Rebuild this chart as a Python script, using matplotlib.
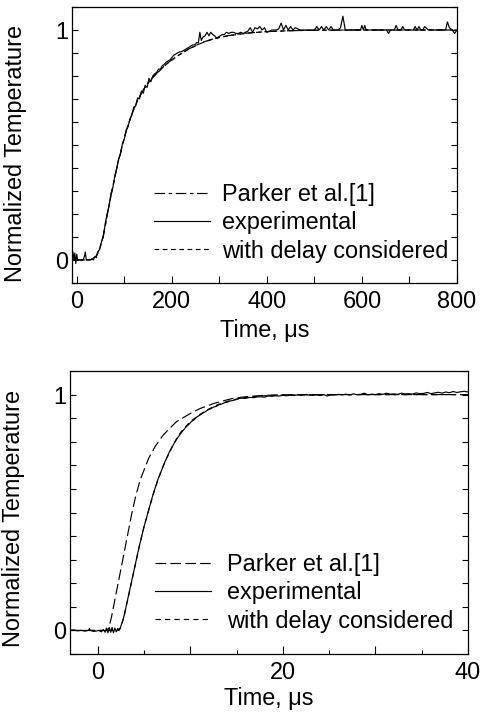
import numpy as np
import matplotlib
matplotlib.use("Agg")
import matplotlib.pyplot as plt
from matplotlib.ticker import MultipleLocator, FixedLocator, FuncFormatter

plt.rcParams['font.family'] = ['Liberation Sans', 'DejaVu Sans']

# ---------------- top panel data (time in microseconds) ----------------
top_parker_t = [-10, 0, 20, 30, 40, 44, 48, 52, 56, 60, 64, 68, 72, 76, 80, 84, 88, 92, 96, 100,
                104, 108, 112, 116, 120, 124, 128, 132, 136, 140, 148, 156, 164, 172, 180, 188,
                196, 204, 212, 220, 228, 236, 244, 252, 260, 270, 280, 290, 300, 320, 340, 360,
                380, 400, 450, 500, 600, 800]
top_parker_v = [0, 0, 0, 0.003, 0.015, 0.03, 0.05, 0.075, 0.11, 0.15, 0.195, 0.24, 0.28, 0.32, 0.36,
                0.40, 0.435, 0.465, 0.50, 0.53, 0.56, 0.585, 0.61, 0.635, 0.655, 0.675, 0.695, 0.71,
                0.725, 0.74, 0.764, 0.786, 0.803, 0.819, 0.835, 0.851, 0.864, 0.876, 0.888, 0.898,
                0.908, 0.918, 0.926, 0.934, 0.942, 0.950, 0.957, 0.963, 0.968, 0.976, 0.982, 0.987,
                0.990, 0.993, 0.997, 0.999, 1.0, 1.0]

top_delay_t = [-10, 0, 20, 30, 40, 44, 48, 52, 56, 60, 64, 68, 72, 76, 80, 84, 88, 92, 96, 100,
               104, 108, 112, 116, 120, 124, 128, 132, 136, 140, 148, 156, 164, 172, 180, 188,
               196, 204, 212, 220, 228, 236, 244, 252, 260, 270, 280, 290, 300, 320, 340, 360,
               380, 400, 450, 500, 600, 800]
top_delay_v = [0, 0, 0, 0.002, 0.012, 0.027, 0.047, 0.073, 0.108, 0.148, 0.193, 0.238, 0.279, 0.319,
               0.359, 0.399, 0.434, 0.465, 0.499, 0.529, 0.559, 0.584, 0.609, 0.634, 0.654, 0.674,
               0.694, 0.709, 0.724, 0.739, 0.763, 0.785, 0.802, 0.818, 0.834, 0.850, 0.863, 0.875,
               0.887, 0.897, 0.907, 0.917, 0.925, 0.933, 0.941, 0.949, 0.956, 0.962, 0.967, 0.975,
               0.981, 0.986, 0.990, 0.993, 0.997, 0.999, 1.0, 1.0]

top_exp_t = [-10, -8, -6, -4, -2, 0, 2, 4, 6, 8, 10, 13, 16, 18, 20, 23, 26, 29, 32, 35, 38, 41,
             44, 48, 52, 56, 60, 64, 68, 72, 76, 80, 84, 88, 92, 96, 100, 104, 108, 112, 116, 120,
             124, 128, 132, 136, 140, 144, 148, 152, 156, 160, 164, 168, 172, 176, 180, 184, 188,
             192, 196, 200, 204, 208, 212, 216, 220, 224, 228, 232, 236, 240, 244, 248, 252, 256,
             259, 262, 266, 270, 274, 278, 282, 286, 290, 294, 298, 302, 306, 310, 315, 320, 325,
             330, 335, 340, 345, 350, 355, 360, 365, 370, 375, 380, 385, 390, 395, 400, 410, 420,
             425, 430, 435, 440, 445, 450, 455, 460, 470, 480, 490, 500, 505, 510, 515, 520, 525,
             530, 535, 540, 550, 555, 560, 565, 575, 590, 597, 600, 603, 606, 609, 620, 640, 652,
             656, 660, 668, 672, 676, 682, 686, 690, 700, 708, 712, 716, 720, 724, 728, 732, 740,
             750, 770, 776, 780, 784, 790, 795, 800]
top_exp_v = [0.01, 0.035, 0.0, 0.03, -0.015, 0.025, 0.0, 0.0, 0.0, 0.0, 0.0, 0.0, 0.015, 0.035,
             0.0, 0.0, 0.0, 0.0, 0.005, 0.0, 0.015, 0.01,
             0.035, 0.045, 0.08, 0.10, 0.16, 0.20, 0.235, 0.29, 0.315, 0.365, 0.395, 0.44, 0.46,
             0.505, 0.525, 0.565, 0.58, 0.615, 0.63, 0.665, 0.67, 0.705, 0.70, 0.735, 0.725, 0.76,
             0.75, 0.79, 0.775, 0.80, 0.81, 0.815, 0.83, 0.83, 0.845, 0.85, 0.86, 0.865, 0.87,
             0.88, 0.89, 0.895, 0.90, 0.905, 0.905, 0.91, 0.915, 0.92, 0.925, 0.93, 0.935, 0.935,
             0.945, 0.945,
             0.99, 0.955, 0.97, 0.975, 0.99, 0.975, 0.99, 0.98, 0.975, 0.965, 0.97, 0.975, 0.98,
             0.98, 0.99, 0.985, 0.99, 0.99, 0.985, 0.985, 0.99, 0.985, 0.99, 0.995, 1.01, 0.99,
             1.01, 1.005, 1.015, 1.0, 1.01, 0.99, 1.0, 1.0, 1.005, 1.03, 1.0, 1.02, 1.0, 1.015,
             1.0, 1.01, 1.0, 1.0, 1.0, 1.0, 1.015, 1.0, 1.015, 1.0, 1.015, 1.0, 1.015, 1.0, 1.0,
             1.01, 1.06, 1.0, 1.0, 1.0, 1.0, 1.02, 1.0, 1.02, 1.0, 1.0, 1.0, 1.0, 0.985, 1.0, 1.0,
             1.02, 1.0, 1.0, 1.015, 1.0, 1.0, 1.0, 1.015, 1.0, 1.015, 1.0, 1.0, 1.015, 1.0, 1.0,
             1.0, 1.0, 1.035, 1.01, 1.0, 0.985, 1.0]

# ---------------- bottom panel data (time in microseconds) ----------------
bot_parker_t = [-3, 0, 1.0, 1.2, 1.5, 1.8, 2.1, 2.4, 2.7, 3.0, 3.3, 3.7, 4.1, 4.6, 5.0, 5.5, 6.2,
                7.0, 7.6, 8.5, 10.0, 11.0, 12.5, 13.5, 14.7, 16.0, 18.0, 20.0, 25.0, 40.0]
bot_parker_v = [0, 0, 0, 0.01, 0.06, 0.12, 0.18, 0.24, 0.30, 0.36, 0.42, 0.50, 0.57, 0.64, 0.68,
                0.73, 0.78, 0.825, 0.85, 0.885, 0.92, 0.94, 0.962, 0.973, 0.985, 0.991, 0.997,
                0.999, 1.0, 1.0]

bot_delay_t = [-3, 0, 2.3, 2.45, 2.6, 2.8, 3.0, 3.5, 4.0, 4.5, 5.0, 5.5, 6.0, 6.5, 7.0, 7.5, 8.0,
               8.5, 9.0, 10.0, 11.0, 12.0, 13.0, 14.0, 15.0, 16.0, 17.0, 18.0, 20.0, 25.0, 40.0]
bot_delay_v = [0, 0, 0, 0.01, 0.028, 0.053, 0.088, 0.178, 0.268, 0.358, 0.44, 0.51, 0.578, 0.638,
               0.69, 0.735, 0.775, 0.812, 0.842, 0.886, 0.915, 0.939, 0.958, 0.971, 0.981, 0.988,
               0.992, 0.995, 0.998, 1.0, 1.0]

bot_exp_base_t = [-3.0, -2.6, -2.2, -1.8, -1.4, -1.0, -0.9, -0.8, -0.5, -0.2, 0.1, 0.4, 0.6, 0.8,
                  0.95, 1.1, 1.25, 1.4, 1.55, 1.7, 1.85, 2.0, 2.15, 2.3]
bot_exp_base_v = [0.0, 0.002, -0.002, 0.0, -0.003, 0.0, 0.008, 0.0, -0.004, -0.003, 0.0, -0.006,
                  0.004, -0.008, 0.01, -0.01, 0.012, -0.008, 0.013, -0.01, 0.01, -0.006, 0.008,
                  0.004]
bot_exp_rise_t = [2.45, 2.6, 2.8, 3.0, 3.25, 3.5, 3.75, 4.0, 4.25, 4.5, 4.75, 5.0, 5.25, 5.5, 5.75,
                  6.0, 6.25, 6.5, 6.75, 7.0, 7.25, 7.5, 7.75, 8.0, 8.3, 8.6, 8.9, 9.2, 9.5, 9.8,
                  10.1, 10.4, 10.7, 11.0, 11.3, 11.6, 11.9, 12.2, 12.5, 12.8, 13.1, 13.4, 13.7,
                  14.0, 14.3, 14.6, 14.9]
bot_exp_rise_v = [0.012, 0.03, 0.055, 0.09, 0.135, 0.18, 0.225, 0.27, 0.315, 0.36, 0.40, 0.44,
                  0.475, 0.51, 0.545, 0.58, 0.61, 0.64, 0.665, 0.69, 0.715, 0.735, 0.758, 0.775,
                  0.797, 0.815, 0.832, 0.847, 0.861, 0.872, 0.885, 0.893, 0.905, 0.912, 0.921,
                  0.927, 0.935, 0.94, 0.947, 0.95, 0.957, 0.96, 0.966, 0.968, 0.973, 0.975, 0.979]
bot_exp_plat_t = [15.2, 15.6, 16.0, 16.4, 16.8, 17.2, 17.6, 18.0, 18.4, 18.8,
                  19.2, 19.6, 20.0, 20.4, 20.8, 21.2, 21.6, 22.0, 22.4, 22.8,
                  23.2, 23.6, 24.0, 24.4, 24.8, 25.2, 25.6, 26.0, 26.4, 26.8,
                  27.2, 27.6, 28.0, 28.4, 28.8, 29.2, 29.6, 30.0, 30.4, 30.8,
                  31.2, 31.6, 32.0, 32.4, 32.8, 33.2, 33.6, 34.0, 34.4, 34.8,
                  35.2, 35.6, 36.0, 36.4, 36.8, 37.2, 37.6, 38.0, 38.4, 38.8,
                  39.2, 39.6, 40.0]
bot_exp_plat_v = [0.983, 0.985, 0.984, 0.988, 0.987, 0.990, 0.991, 0.989, 0.994, 0.993,
                  0.995, 0.994, 0.997, 0.995, 0.998, 0.996, 0.999, 0.997, 1.000, 0.998,
                  0.997, 0.999, 0.996, 1.000, 0.994, 0.999, 0.998, 1.001, 0.999, 1.002,
                  0.998, 1.003, 1.000, 1.001, 1.006, 0.999, 1.002, 1.000, 1.004, 1.001,
                  1.006, 1.002, 1.003, 1.001, 1.006, 1.003, 1.004, 1.002, 1.007, 1.004,
                  1.005, 1.009, 1.004, 1.007, 1.010, 1.006, 1.011, 1.008, 1.013, 1.009,
                  1.012, 1.014, 1.011]

legend_labels = ["Parker et al.[1]", "experimental", "with delay considered"]
ylabel = "Normalized Temperature"
xlabel = "Time, \u03bcs"

FS = 16.9
LW = 0.85

fig = plt.figure(figsize=(4.8, 7.15), dpi=100)
ax1 = fig.add_axes([0.15, 0.6042, 0.802, 0.386])
ax2 = fig.add_axes([0.1458, 0.0853, 0.8292, 0.3958])

def style(ax):
    for s in ax.spines.values():
        s.set_linewidth(0.9)
    ax.set_ylim(-0.1, 1.1)
    ax.yaxis.set_major_locator(FixedLocator([0, 1]))
    ax.yaxis.set_minor_locator(MultipleLocator(0.1))
    ax.tick_params(axis='both', which='both', direction='in', top=False, right=True,
                   labelsize=FS, width=0.8)
    ax.tick_params(axis='y', which='both', length=4, pad=3)
    ax.yaxis.set_major_formatter(FuncFormatter(lambda v, p: "%d" % round(v)))

# top panel
style(ax1)
ax1.set_xlim(-10, 800)
ax1.xaxis.set_major_locator(MultipleLocator(200))
ax1.xaxis.set_minor_locator(MultipleLocator(100))
ax1.tick_params(axis='x', which='both', length=5, pad=5)
l1, = ax1.plot(top_parker_t, top_parker_v, color='black', lw=LW, dashes=(9, 3, 3, 3))
l2, = ax1.plot(top_exp_t, top_exp_v, color='black', lw=LW)
l3, = ax1.plot(top_delay_t, top_delay_v, color='black', lw=LW, dashes=(4, 3))
ax1.set_ylabel(ylabel, fontsize=FS)
ax1.yaxis.set_label_coords(-0.117, 0.47)
ax1.set_xlabel(xlabel, fontsize=FS)
ax1.xaxis.set_label_coords(0.5, -0.132)
ax1.legend([l1, l2, l3], legend_labels, loc='lower left', bbox_to_anchor=(0.213, 0.074),
           frameon=False, fontsize=FS, handlelength=2.4, handletextpad=0.5,
           labelspacing=0.22, borderpad=0, borderaxespad=0)

# bottom panel
style(ax2)
ax2.set_xlim(-3, 40)
ax2.xaxis.set_major_locator(MultipleLocator(10))
ax2.xaxis.set_minor_locator(MultipleLocator(5))
ax2.xaxis.set_major_formatter(FuncFormatter(lambda v, p: ("%d" % v) if round(v) % 20 == 0 else ""))
ax2.tick_params(axis='x', which='major', length=6, pad=5)
ax2.tick_params(axis='x', which='minor', length=3)
m1, = ax2.plot(bot_parker_t, bot_parker_v, color='black', lw=LW, dashes=(9, 3.6))
ax2.plot(bot_exp_base_t, bot_exp_base_v, color='black', lw=LW)
ax2.plot([bot_exp_base_t[-1]] + bot_exp_rise_t, [bot_exp_base_v[-1]] + bot_exp_rise_v, color='black', lw=LW)
m2, = ax2.plot([bot_exp_rise_t[-1]] + bot_exp_plat_t, [bot_exp_rise_v[-1]] + bot_exp_plat_v, color='black', lw=LW)
m3, = ax2.plot(bot_delay_t, bot_delay_v, color='black', lw=LW, dashes=(4.5, 3.5))
ax2.set_ylabel(ylabel, fontsize=FS)
ax2.yaxis.set_label_coords(-0.113, 0.479)
ax2.set_xlabel(xlabel, fontsize=FS)
ax2.xaxis.set_label_coords(0.5, -0.118)
ax2.legend([m1, m2, m3], legend_labels, loc='lower left', bbox_to_anchor=(0.214, 0.076),
           frameon=False, fontsize=FS, handlelength=2.4, handletextpad=0.65,
           labelspacing=0.22, borderpad=0, borderaxespad=0)

fig.savefig("out.png", dpi=100)
